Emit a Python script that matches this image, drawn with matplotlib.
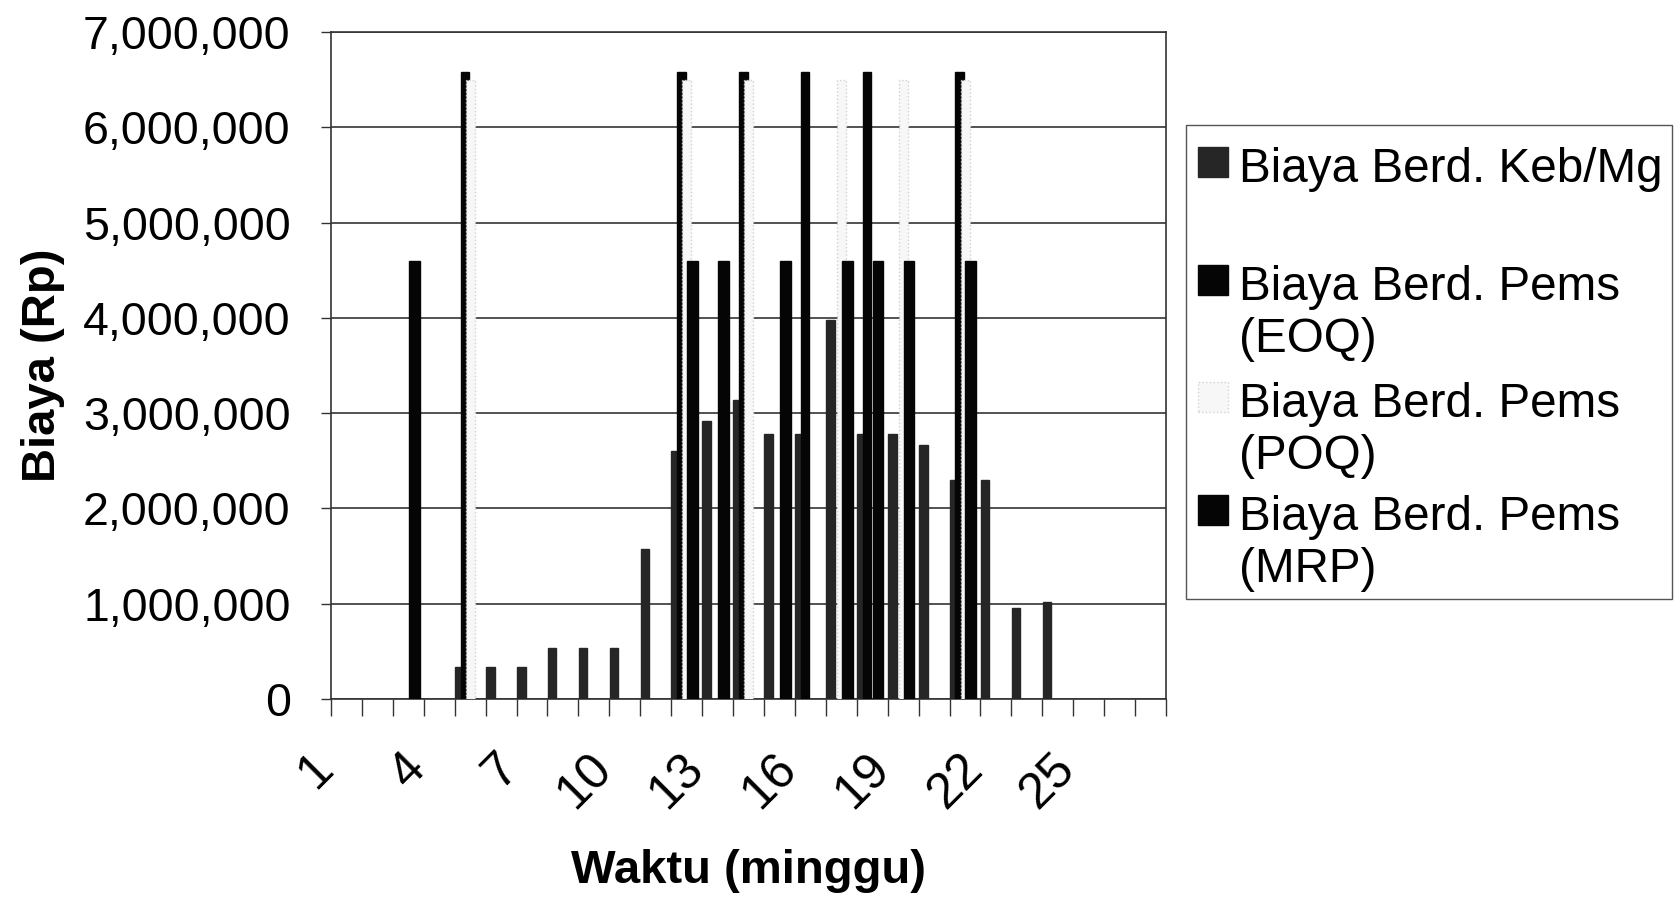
import numpy as np
import matplotlib
matplotlib.use("Agg")
import matplotlib.pyplot as plt
from matplotlib.patches import Rectangle
from matplotlib.ticker import FuncFormatter, MultipleLocator
from matplotlib.transforms import ScaledTranslation

plt.rcParams["font.family"] = ["Liberation Sans", "DejaVu Sans"]

# minggu ke-1 .. ke-27
weeks = np.arange(1, 28)
label_weeks = [1, 4, 7, 10, 13, 16, 19, 22, 25]

# biaya (Rp) per minggu untuk tiap metode
keb_mg = [0, 0, 0, 0, 340000, 340000, 340000, 540000, 540000, 540000,
          1570000, 2600000, 2920000, 3140000, 2780000, 2780000, 3980000,
          2780000, 2780000, 2670000, 2300000, 2300000, 960000, 1020000, 0, 0, 0]
eoq = [0, 0, 0, 0, 6580000, 0, 0, 0, 0, 0, 0, 6580000, 0, 6580000, 0,
       6580000, 0, 6580000, 0, 0, 6580000, 0, 0, 0, 0, 0, 0]
poq = [0, 0, 0, 0, 6500000, 0, 0, 0, 0, 0, 0, 6500000, 0, 6500000, 0,
       0, 6500000, 0, 6500000, 0, 6500000, 0, 0, 0, 0, 0, 0]
mrp = [0, 0, 4600000, 0, 0, 0, 0, 0, 0, 0, 0, 4600000, 4600000, 0, 4600000,
       0, 4600000, 4600000, 4600000, 0, 4600000, 0, 0, 0, 0, 0, 0]

series = [keb_mg, eoq, poq, mrp]
names = ["Biaya Berd. Keb/Mg", "Biaya Berd. Pems\n(EOQ)",
         "Biaya Berd. Pems\n(POQ)", "Biaya Berd. Pems\n(MRP)"]
faces = ["#262626", "#050505", "#f7f7f7", "#050505"]
edges = ["#262626", "#050505", "#d2d2d2", "#050505"]
styles = ["-", "-", ":", "-"]
widths = [0.28, 0.28, 0.29, 0.35]

W, H = 1676, 897
fig = plt.figure(figsize=(W / 100, H / 100), dpi=100)
L, R, T, B = 331, 1166, 32, 699
ax = fig.add_axes([L / W, 1 - B / H, (R - L) / W, (B - T) / H])

# overlapping clustered bars, 4 per week
step, shift = 0.18, -0.08
for i, (vals, fc, ec, ls, bw) in enumerate(zip(series, faces, edges, styles, widths)):
    vals = np.asarray(vals, dtype=float)
    m = vals > 0
    x = weeks[m] + shift + (i - 1.5) * step
    ax.bar(x, vals[m], width=bw, color=fc, edgecolor=ec, linestyle=ls,
           linewidth=1.0, zorder=3 + i)

ax.set_xlim(0.5, 27.5)
ax.set_ylim(0, 7000000)
ax.yaxis.set_major_locator(MultipleLocator(1000000))
ax.yaxis.set_major_formatter(FuncFormatter(lambda v, p: f"{v:,.0f}"))
ax.grid(axis="y", color="#444444", linewidth=1.3)
ax.set_axisbelow(True)
for s in ax.spines.values():
    s.set_color("#333333")
    s.set_linewidth(1.2)

ax.set_xticks(np.arange(0.5, 28), minor=True)
ax.set_xticks(label_weeks)
ax.set_xticklabels([str(w) for w in label_weeks], rotation=45, ha="right",
                   va="top", rotation_mode="anchor")
ax.tick_params(axis="x", which="major", length=0, pad=33, labelsize=36)
ax.tick_params(axis="x", which="minor", length=12, width=1.0,
               color="#333333", direction="out")
ax.tick_params(axis="y", length=7, width=1.0, color="#333333", pad=22,
               labelsize=33.5)
off = ScaledTranslation(-0.37, 0, fig.dpi_scale_trans)
for lab in ax.get_xticklabels():
    lab.set_transform(lab.get_transform() + off)

ax.set_xlabel("Waktu (minggu)", fontsize=34, fontweight="bold", va="center")
ax.xaxis.set_label_coords(0.5, -(871 - B) / (B - T))
ax.set_ylabel("Biaya (Rp)", fontsize=34, fontweight="bold", va="center")
ax.yaxis.set_label_coords(-(L - 43) / (R - L), 0.5)


def fx(px):
    return px / W


def fy(py):
    return 1 - py / H


# legend box on the right
fig.patches.append(Rectangle((fx(1186), fy(599)), fx(1672) - fx(1186),
                             fy(125) - fy(599), transform=fig.transFigure,
                             facecolor="white", edgecolor="#555555",
                             linewidth=1.0))
baselines = [182, 300, 417, 530]
for name, fc, ec, ls, yb in zip(names, faces, edges, styles, baselines):
    fig.patches.append(Rectangle((fx(1198), fy(yb - 5)), fx(30), 30 / H,
                                 transform=fig.transFigure, facecolor=fc,
                                 edgecolor=ec, linestyle=ls, linewidth=1.0))
    for k, line in enumerate(name.split("\n")):
        fig.text(fx(1239), fy(yb + 52 * k), line, fontsize=34.3,
                 va="baseline", ha="left")

fig.savefig("out.png", dpi=100, facecolor="white")
